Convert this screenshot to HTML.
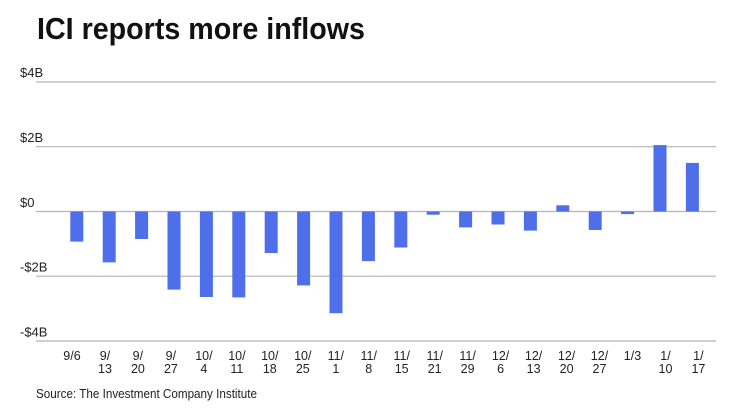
<!DOCTYPE html>
<html>
<head>
<meta charset="utf-8">
<style>
  html, body { margin: 0; padding: 0; background: #ffffff; }
  svg { display: block; }
  text { font-family: "Liberation Sans", "DejaVu Sans", sans-serif; }
</style>
</head>
<body>
<svg width="740" height="416" viewBox="0 0 740 416" xmlns="http://www.w3.org/2000/svg">
  <rect x="0" y="0" width="740" height="416" fill="#ffffff"/>
  <!-- Title -->
  <text x="37" y="39" font-size="31" font-weight="bold" fill="#111" textLength="328" lengthAdjust="spacingAndGlyphs">ICI reports more inflows</text>

  <!-- Gridlines -->
  <g stroke="#b4b4b4" stroke-width="1.2">
    <line x1="36" y1="82" x2="716" y2="82"/>
    <line x1="36" y1="146.7" x2="716" y2="146.7"/>
    <line x1="36" y1="211.5" x2="716" y2="211.5"/>
    <line x1="36" y1="276.2" x2="716" y2="276.2"/>
    <line x1="36" y1="341" x2="716" y2="341"/>
  </g>

  <!-- Y labels -->
  <g font-size="13" fill="#222">
    <text x="20" y="77">$4B</text>
    <text x="20" y="142">$2B</text>
    <text x="20" y="207">$0</text>
    <text x="20" y="271.5">-$2B</text>
    <text x="20" y="336.5">-$4B</text>
  </g>

  <!-- Bars -->
  <g fill="#4e6eea">
    <rect x="70.3" y="211.5" width="13" height="30.1"/>
    <rect x="102.7" y="211.5" width="13" height="50.9"/>
    <rect x="135.1" y="211.5" width="13" height="27.5"/>
    <rect x="167.5" y="211.5" width="13" height="78.1"/>
    <rect x="199.9" y="211.5" width="13" height="85.5"/>
    <rect x="232.3" y="211.5" width="13" height="85.9"/>
    <rect x="264.7" y="211.5" width="13" height="41.5"/>
    <rect x="297.1" y="211.5" width="13" height="73.9"/>
    <rect x="329.5" y="211.5" width="13" height="101.7"/>
    <rect x="361.9" y="211.5" width="13" height="49.6"/>
    <rect x="394.3" y="211.5" width="13" height="36.0"/>
    <rect x="426.7" y="211.5" width="13" height="3.2"/>
    <rect x="459.1" y="211.5" width="13" height="15.9"/>
    <rect x="491.5" y="211.5" width="13" height="13.0"/>
    <rect x="523.9" y="211.5" width="13" height="19.1"/>
    <rect x="556.3" y="205.3" width="13" height="6.2"/>
    <rect x="588.7" y="211.5" width="13" height="18.5"/>
    <rect x="621.1" y="211.5" width="13" height="2.6"/>
    <rect x="653.5" y="145.1" width="13" height="66.4"/>
    <rect x="685.9" y="162.9" width="13" height="48.6"/>
  </g>

  <!-- X labels -->
  <g font-size="12.5" fill="#222" text-anchor="middle">
    <text x="72" y="360">9/6</text>
    <text x="105" y="360">9/</text><text x="105" y="373">13</text>
    <text x="137.9" y="360">9/</text><text x="137.9" y="373">20</text>
    <text x="170.9" y="360">9/</text><text x="170.9" y="373">27</text>
    <text x="203.9" y="360">10/</text><text x="203.9" y="373">4</text>
    <text x="236.9" y="360">10/</text><text x="236.9" y="373">11</text>
    <text x="269.8" y="360">10/</text><text x="269.8" y="373">18</text>
    <text x="302.8" y="360">10/</text><text x="302.8" y="373">25</text>
    <text x="335.8" y="360">11/</text><text x="335.8" y="373">1</text>
    <text x="368.7" y="360">11/</text><text x="368.7" y="373">8</text>
    <text x="401.7" y="360">11/</text><text x="401.7" y="373">15</text>
    <text x="434.7" y="360">11/</text><text x="434.7" y="373">21</text>
    <text x="467.6" y="360">11/</text><text x="467.6" y="373">29</text>
    <text x="500.6" y="360">12/</text><text x="500.6" y="373">6</text>
    <text x="533.6" y="360">12/</text><text x="533.6" y="373">13</text>
    <text x="566.6" y="360">12/</text><text x="566.6" y="373">20</text>
    <text x="599.5" y="360">12/</text><text x="599.5" y="373">27</text>
    <text x="632.5" y="360">1/3</text>
    <text x="665.5" y="360">1/</text><text x="665.5" y="373">10</text>
    <text x="698.4" y="360">1/</text><text x="698.4" y="373">17</text>
  </g>

  <!-- Source -->
  <text x="36" y="398" font-size="12.5" fill="#222" textLength="221" lengthAdjust="spacingAndGlyphs">Source: The Investment Company Institute</text>
</svg>
</body>
</html>
